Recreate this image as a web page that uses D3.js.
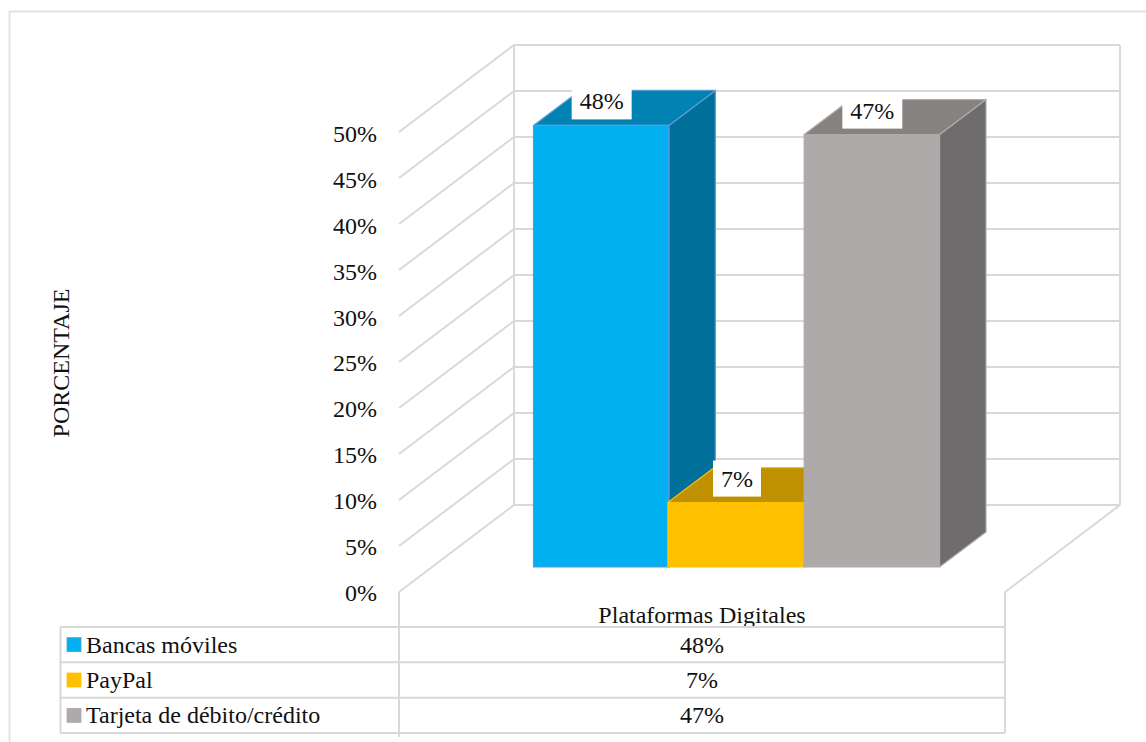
<!DOCTYPE html>
<html>
<head>
<meta charset="utf-8">
<script src="https://cdn.jsdelivr.net/npm/d3@7/dist/d3.min.js"></script>
<style>
html,body{margin:0;padding:0;background:#fff;}
svg{display:block;}
text{font-family:"Liberation Serif","Times New Roman",serif;fill:#111;}
</style>
</head>
<body>
<svg id="c" width="1146" height="742"></svg>
<script>
const seriesNames = ["Bancas móviles","PayPal","Tarjeta de débito/crédito"];
const seriesValues = [48,7,47];
const valueLabels = ["48%","7%","47%"];
const tickValues = [0,5,10,15,20,25,30,35,40,45,50];
const categoryName = "Plataformas Digitales";
const axisTitle = "PORCENTAJE";
const frontColors = ["#00B0F0","#FFC000","#AEAAAA"];
const topColors = ["#0083B3","#BF9000","#868280"];
const sideColors = ["#006F9A","#BF9000","#6E6C6C"];
const edgeColors = ["#5B9BD5","#FFC000","#AEAAAA"];

const GRID="#D9D9D9", FS=24;
const svg=d3.select("#c");
const gridW=2;
const line=(x1,y1,x2,y2,w=gridW)=>svg.append("line").attr("x1",x1).attr("y1",y1).attr("x2",x2).attr("y2",y2)
  .attr("stroke",GRID).attr("stroke-width",w);

// outer frame
svg.append("path").attr("d","M9.5,742V11.5H1146").attr("fill","none").attr("stroke","#E2E2E2").attr("stroke-width",1.8);

// scales
const wall={xL:399,xR:1005,dx:115,dy:-87};
const yFront=d3.scaleLinear().domain([0,50]).range([592,132]);
const yTick=d3.scaleLinear().domain([0,50]).range([592.5,134]);
const yBar=d3.scaleLinear().domain([0,50]).range([567,107]);
const xBar=d3.scaleBand().domain(seriesNames).range([533.5,939.5]).padding(0);
const barD={dx:46.5,dy:-35};

// walls / gridlines
tickValues.forEach(t=>{
  const y=yFront(t);
  line(wall.xL,y,wall.xL+wall.dx,y+wall.dy);
  line(wall.xL+wall.dx,y+wall.dy,wall.xR+wall.dx,y+wall.dy);
});
line(wall.xL+wall.dx,yFront(0)+wall.dy,wall.xL+wall.dx,yFront(50)+wall.dy);
line(wall.xR+wall.dx,yFront(0)+wall.dy,wall.xR+wall.dx,yFront(50)+wall.dy);
line(wall.xR,yFront(0),wall.xR+wall.dx,yFront(0)+wall.dy);

// bars, left to right: each one covers the foot of its neighbour's side face
seriesNames.forEach((n,i)=>{
  const x0=xBar(n)-(i===1?1:0),x1=xBar(n)+xBar.bandwidth(),yT=yBar(seriesValues[i]),yB=yBar(0);
  const g=svg.append("g").attr("stroke",edgeColors[i]).attr("stroke-width",1.2).attr("stroke-linejoin","round");
  g.append("path").attr("fill",sideColors[i])
    .attr("d",`M${x1},${yT}L${x1+barD.dx},${yT+barD.dy}L${x1+barD.dx},${yB+barD.dy}L${x1},${yB}Z`);
  g.append("path").attr("fill",topColors[i])
    .attr("d",`M${x0},${yT}L${x0+barD.dx},${yT+barD.dy}L${x1+barD.dx},${yT+barD.dy}L${x1},${yT}Z`);
  g.append("rect").attr("fill",frontColors[i]).attr("x",x0).attr("y",yT).attr("width",x1-x0).attr("height",yB-yT);
});

// data labels
seriesNames.forEach((n,i)=>{
  const cx=xBar(n)+xBar.bandwidth()/2+0.5;
  const yT=yBar(seriesValues[i]);
  const w=i===1?48:60;
  svg.append("rect").attr("x",cx-w/2).attr("y",yT-42).attr("width",w).attr("height",36).attr("fill","#fff");
  svg.append("text").attr("x",cx).attr("y",yT-24).attr("dy","0.33em").attr("text-anchor","middle").attr("font-size",FS).text(valueLabels[i]);
});

// y axis
const axis=d3.axisLeft(yTick).tickValues(tickValues).tickSize(0).tickPadding(0).tickFormat(d=>d+"%");
const gA=svg.append("g").attr("transform","translate(377,0)").call(axis);
gA.select(".domain").remove();
gA.selectAll("text").attr("font-size",FS).attr("font-family",'"Liberation Serif",serif').attr("fill","#111");

svg.append("text").attr("transform","translate(61,363) rotate(-90)").attr("dy","0.33em").attr("text-anchor","middle").attr("font-size",FS).text(axisTitle);
svg.append("text").attr("x",702).attr("y",615).attr("dy","0.33em").attr("text-anchor","middle").attr("font-size",FS).text(categoryName);

// data table
const yRow=d3.scaleLinear().domain([0,3]).range([627,733]);
line(wall.xL,yFront(0),wall.xL,737,2);
line(wall.xR,yFront(0),wall.xR,733,2);
line(60.5,yRow(0),60.5,yRow(3),2);
d3.range(4).forEach(r=>line(60,yRow(r),wall.xR,yRow(r),2));
seriesNames.forEach((n,i)=>{
  const cy=(yRow(i)+yRow(i+1))/2;
  svg.append("rect").attr("x",67).attr("y",cy-7).attr("width",14).attr("height",14).attr("fill",frontColors[i]).attr("stroke",edgeColors[i]).attr("stroke-width",0.8);
  svg.append("text").attr("x",86).attr("y",cy).attr("dy","0.33em").attr("font-size",FS).text(n);
  svg.append("text").attr("x",702).attr("y",cy).attr("dy","0.33em").attr("text-anchor","middle").attr("font-size",FS).text(valueLabels[i]);
});
</script>
</body>
</html>
